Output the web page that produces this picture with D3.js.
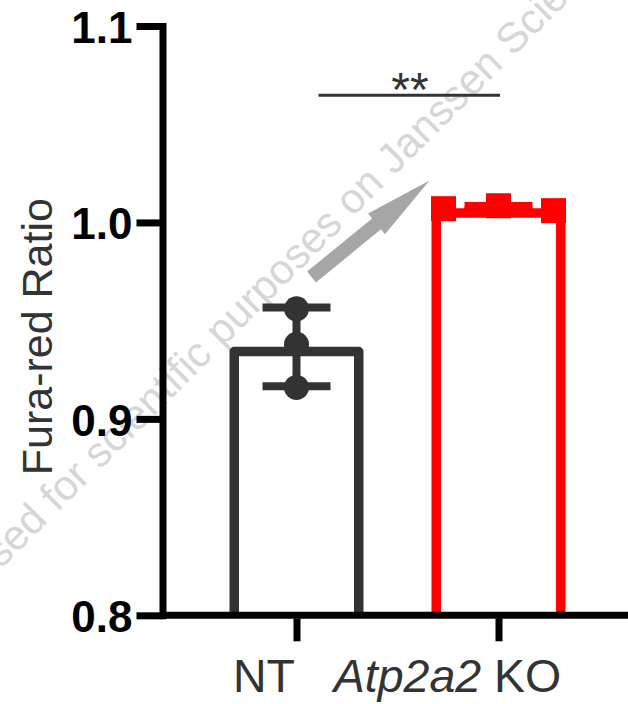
<!DOCTYPE html>
<html>
<head>
<meta charset="utf-8">
<script src="https://cdn.jsdelivr.net/npm/d3@7"></script>
<style>
  html, body { margin: 0; padding: 0; background: #ffffff; }
  svg { display: block; font-family: Arial, "Liberation Sans", Helvetica, sans-serif; }
</style>
</head>
<body>
<svg id="chart" width="628" height="704"></svg>
<script>
// Groups and replicate measurements (Fura-red ratio)
const groups = ["NT", "Atp2a2 KO"];
const ntValues = [0.956, 0.938, 0.916];
const koValues = [1.007, 1.0085, 1.006];
const yTicks = [0.8, 0.9, 1.0, 1.1];
const yLabel = "Fura-red Ratio";
const sigLabel = "**";
const watermarkText = "Licensed for scientific purposes on Janssen Sciences";

const groupColors = ["#333333", "#ff0000"];
const groupShapes = ["circle", "square"];
// horizontal spread of replicate markers within each bar (px)
const jitter = [[0, 0, 0], [-55, 0, 55]];
// horizontal shift of each category label relative to its tick (px)
const labelShift = [-33, -51.5];

const W = 628, H = 704;
const plot = { left: 162.5, top: 26, bottom: 615.3, right: 628 };

const svg = d3.select("#chart");
svg.append("rect").attr("width", W).attr("height", H).attr("fill", "#fff");

const y = d3.scaleLinear().domain([0.8, 1.1]).range([plot.bottom, plot.top]);
const x = d3.scalePoint().domain(groups).range([195.5, 599.5]).padding(0.5);

// watermark
svg.append("text")
  .attr("transform", "translate(-70,640) rotate(-45)")
  .attr("font-size", 42)
  .attr("fill", "#d6d6d6")
  .text(watermarkText);

const series = [ntValues, koValues].map((vals, i) => ({
  group: groups[i],
  values: vals,
  mean: d3.mean(vals),
  sd: d3.deviation(vals),
  color: groupColors[i],
  shape: groupShapes[i],
  jitter: jitter[i]
}));

const barW = 124.5, barStroke = 9.5;

// bars (open at the baseline)
svg.append("g").selectAll("path")
  .data(series)
  .join("path")
  .attr("d", d => {
    const cx = x(d.group);
    const top = y(d.mean) + barStroke / 2;
    const base = y(0.8);
    return `M${cx - barW / 2},${base}V${top}H${cx + barW / 2}V${base}`;
  })
  .attr("fill", "#fff")
  .attr("stroke", d => d.color)
  .attr("stroke-width", barStroke)
  .attr("stroke-linejoin", "round");

// error bars: mean ± SD
const capW = 68;
const eb = svg.append("g").selectAll("g").data(series).join("g");
eb.append("line")
  .attr("x1", d => x(d.group)).attr("x2", d => x(d.group))
  .attr("y1", d => y(d.mean + d.sd)).attr("y2", d => y(d.mean - d.sd))
  .attr("stroke", d => d.color).attr("stroke-width", 8);
eb.each(function (d) {
  d3.select(this).selectAll("line.cap")
    .data([d.mean + d.sd, d.mean - d.sd])
    .join("line")
    .attr("class", "cap")
    .attr("x1", x(d.group) - capW / 2).attr("x2", x(d.group) + capW / 2)
    .attr("y1", v => y(v)).attr("y2", v => y(v))
    .attr("stroke", d.color).attr("stroke-width", 8);
});

// replicate markers
series.forEach(s => {
  const g = svg.append("g");
  s.values.forEach((v, i) => {
    const cx = x(s.group) + s.jitter[i];
    if (s.shape === "circle") {
      g.append("circle").attr("cx", cx).attr("cy", y(v)).attr("r", 12.5).attr("fill", s.color);
    } else {
      g.append("rect").attr("x", cx - 12.5).attr("y", y(v) - 12.5)
        .attr("width", 25).attr("height", 25).attr("fill", s.color);
    }
  });
});

// x axis line
svg.append("line")
  .attr("x1", plot.left).attr("x2", plot.right)
  .attr("y1", y(0.8)).attr("y2", y(0.8))
  .attr("stroke", "#000").attr("stroke-width", 7);

// y axis
const yAxis = svg.append("g")
  .attr("transform", `translate(${plot.left},0)`)
  .call(d3.axisLeft(y).tickValues(yTicks).tickFormat(d3.format(".1f"))
    .tickSize(26).tickSizeOuter(0).tickPadding(4));
yAxis.select(".domain").attr("stroke", "#000").attr("stroke-width", 7).attr("stroke-linecap", "square");
yAxis.selectAll(".tick line").attr("stroke", "#000").attr("stroke-width", 7);
yAxis.selectAll(".tick text")
  .attr("font-size", 44).attr("font-weight", "bold").attr("fill", "#000")
  .attr("font-family", "Arial, 'Liberation Sans', sans-serif")
  .attr("dy", "0.37em");

// x axis ticks and labels
const xAxis = svg.append("g")
  .attr("transform", `translate(0,${y(0.8)})`)
  .call(d3.axisBottom(x).tickSize(26).tickSizeOuter(0).tickPadding(17.7));
xAxis.select(".domain").remove();
xAxis.selectAll(".tick line").attr("stroke", "#000").attr("stroke-width", 7)
  .attr("y1", 3);
xAxis.selectAll(".tick text")
  .attr("font-size", 46.5).attr("fill", "#333")
  .attr("font-family", "Arial, 'Liberation Sans', sans-serif")
  .attr("dx", (d, i) => labelShift[i])
  .each(function (d) {
    const t = d3.select(this);
    const parts = d.split(" ");
    if (parts.length > 1) {
      t.text(null);
      t.append("tspan").attr("font-style", "italic").text(parts[0]);
      t.append("tspan").text(" " + parts.slice(1).join(" "));
    }
  });

// y axis title
svg.append("text")
  .attr("transform", `translate(52,${(y(0.8) + y(1.1)) / 2 + 16}) rotate(-90)`)
  .attr("text-anchor", "middle")
  .attr("font-size", 43)
  .attr("fill", "#333")
  .text(yLabel);

// significance bracket
const sigY = 95.3;
svg.append("line")
  .attr("x1", x(groups[0]) + 22).attr("x2", x(groups[1]) + 1.5)
  .attr("y1", sigY).attr("y2", sigY)
  .attr("stroke", "#333").attr("stroke-width", 3);
svg.append("text")
  .attr("x", 410).attr("y", 106)
  .attr("text-anchor", "middle")
  .attr("font-size", 48)
  .attr("fill", "#333")
  .text(sigLabel);

// annotation arrow from NT towards KO
const tail = [x(groups[0]) + 15, y(0.9722)];
const tip = [x(groups[1]) - 69, y(1.0213)];
(function drawArrow() {
  const dx = tip[0] - tail[0], dy = tip[1] - tail[1];
  const len = Math.hypot(dx, dy);
  const ux = dx / len, uy = dy / len;
  const px = -uy, py = ux;
  const shaftHalf = 7, headHalf = 13.3, headLen = 68.4;
  const bx = tip[0] - ux * headLen, by = tip[1] - uy * headLen;
  const pts = [
    [tail[0] + px * shaftHalf, tail[1] + py * shaftHalf],
    [bx + px * shaftHalf, by + py * shaftHalf],
    [bx + px * headHalf, by + py * headHalf],
    tip,
    [bx - px * headHalf, by - py * headHalf],
    [bx - px * shaftHalf, by - py * shaftHalf],
    [tail[0] - px * shaftHalf, tail[1] - py * shaftHalf]
  ];
  svg.append("path")
    .attr("d", d3.line()(pts) + "Z")
    .attr("fill", "#a6a6a6");
})();
</script>
</body>
</html>
